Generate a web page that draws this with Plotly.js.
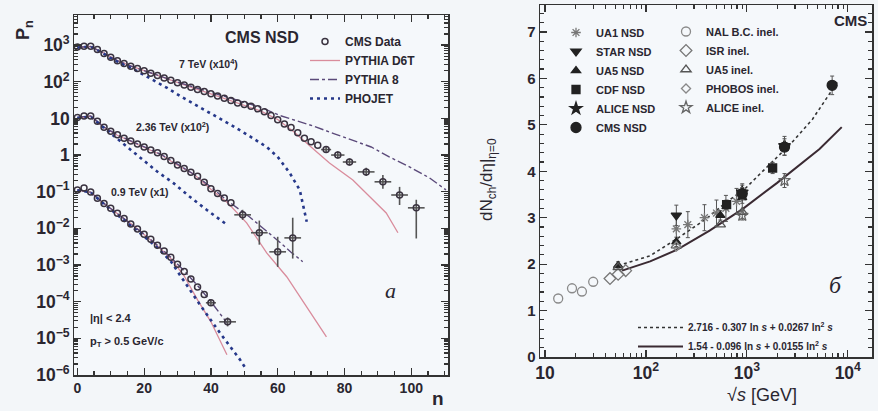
<!DOCTYPE html>
<html><head><meta charset="utf-8">
<script src="https://cdn.plot.ly/plotly-3.0.1.min.js"></script>
<style>body{margin:0;background:#f3f6f9}</style>
</head><body><div id="chart" style="width:878px;height:411px"></div>
<script>
// ---------- Left panel: multiplicity distributions P_n (already scaled as drawn) ----------
const n7   = [0,2,4,6,8,10,12,14,16,18,20,22,24,26,28,30,32,34,36,38,40,42,44,46,48,50,52,54,56,58,60,62,64,66,68,70,72,74.5,78,81.5,86.5,91.5,96.5,101.5];
const p7   = [891,933,933,759,589,468,372,316,263,229,200,170,148,126,110,93.3,81.3,70.8,61.7,53.7,46.8,40.7,35.5,30.9,26.3,24.0,21.4,18.2,15.1,12.0,9.12,7.08,5.62,4.07,2.88,2.29,1.86,1.41,1.00,0.646,0.347,0.186,0.0813,0.0363];
const ex7  = [0,0,0,0,0,0,0,0,0,0,0,0,0,0,0,0,0,0,0,0,0,0,0,0,0,0,0,0,0,0,0,0,0,0,0,0,0,1.5,2,2,2.5,2.5,2.5,2.5];
const eyU7 = [0,0,0,0,0,0,0,0,0,0,0,0,0,0,0,0,0,0,0,0,0,0,0,0,0,0,0,0,0,0,0,0,0,0,0,0,0,0.28,0.26,0.17,0.10,0.10,0.054,0.024];
const eyD7 = [0,0,0,0,0,0,0,0,0,0,0,0,0,0,0,0,0,0,0,0,0,0,0,0,0,0,0,0,0,0,0,0,0,0,0,0,0,0.24,0.20,0.13,0.08,0.066,0.038,0.031];

const n236   = [0,2,4,6,8,10,12,14,16,18,20,22,24,26,28,30,32,34,36,38,40,42,44,46,49.5,54.5,60,64.5];
const p236   = [10.5,11.7,11.7,8.32,5.75,4.47,3.55,2.88,2.40,2.00,1.66,1.38,1.15,0.912,0.708,0.537,0.427,0.339,0.263,0.182,0.120,0.0891,0.0676,0.0501,0.0234,0.00759,0.00229,0.00550];
const ex236  = [0,0,0,0,0,0,0,0,0,0,0,0,0,0,0,0,0,0,0,0,0,0,0,0,2.5,2.5,2.5,2.5];
const eyU236 = [0,0,0,0,0,0,0,0,0,0,0,0,0,0,0,0,0,0,0,0,0,0,0,0,0.0087,0.0087,0.0036,0.014];
const eyD236 = [0,0,0,0,0,0,0,0,0,0,0,0,0,0,0,0,0,0,0,0,0,0,0,0,0.0064,0.0040,0.0014,0.0040];

const n09   = [0,2,4,6,8,10,12,14,16,18,20,22,24,26,28,30,32,34,36,38,40,45];
const p09   = [0.112,0.126,0.0977,0.0661,0.0479,0.0355,0.0257,0.0186,0.0132,0.00955,0.00692,0.00501,0.00347,0.00240,0.00162,0.00105,0.000661,0.000417,0.000251,0.000158,0.0000933,0.0000282];
const ex09  = [0,0,0,0,0,0,0,0,0,0,0,0,0,0,0,0,0,0,0,0,1.5,2.5];
const eyU09 = [0,0,0,0,0,0,0,0,0,0,0,0,0,0,0,0,0,0,0,0,0.000019,0.000009];
const eyD09 = [0,0,0,0,0,0,0,0,0,0,0,0,0,0,0,0,0,0,0,0,0.000016,0.000007];

// PYTHIA D6T
const d6tN7  = [0,4,8,12,16,20,25,30,35,40,45,50,55,60,65,70,75.5,82.5,89.5,92.5,96];
const d6tP7  = [851,912,603,380,269,200,138,93.3,66.1,46.8,33.1,23.4,15.8,9.33,4.17,1.66,0.603,0.209,0.0490,0.0263,0.00759];
const d6tN236 = [0,4,8,12,16,20,25,30,35,40,45,50.7,56.7,62.7,68.7,74.6];
const d6tP236 = [10.2,11.5,5.62,3.47,2.34,1.62,1.02,0.525,0.295,0.117,0.0501,0.0141,0.00214,0.000479,0.0000724,0.0000110];
const d6tN09 = [0,4,8,12,16,20,24,28,32,36,40,44.8];
const d6tP09 = [0.110,0.0955,0.0468,0.0251,0.0135,0.00676,0.00331,0.00151,0.000501,0.000112,0.0000282,0.00000355];
// PYTHIA 8
const p8N7  = [0,4,8,12,16,20,25,30,35,40,45,50,55,60.6,65,70.4,77,83.6,88,93.4,99,105.4,110.4];
const p8P7  = [871,912,589,372,269,200,141,97.7,70.8,51.3,38.0,28.2,20.0,12.0,8.91,6.31,3.80,2.29,1.66,0.891,0.501,0.240,0.112];
const p8N236 = [0,4,8,12,16,20,25,30,35,40,45,51.6,56,60,64,67.5];
const p8P236 = [10.7,11.7,5.75,3.55,2.45,1.66,1.05,0.562,0.295,0.135,0.0562,0.0204,0.00955,0.00468,0.00224,0.00123];
const p8N09 = [0,4,8,12,16,20,24,28,32,36,40,45];
const p8P09 = [0.112,0.0977,0.0479,0.0257,0.0132,0.00692,0.00347,0.00162,0.000692,0.000275,0.000100,0.0000251];
// PHOJET
const phN7  = [0,4,8,10,13,16.7,21,26.9,31.5,36.7,41.5,46.6,51.5,56.7,60,63.6,66.6,68.7];
const phP7  = [851,912,575,437,316,224,135,67.6,37.2,20.4,11.2,6.17,3.31,1.66,0.891,0.324,0.112,0.0151];
const phN236 = [0,4,8,11.9,15,18.8,23.9,28.7,33.7,38.8,44.8];
const phP236 = [10.2,11.2,5.50,2.82,1.58,0.832,0.355,0.174,0.0724,0.0316,0.0126];
const phN09 = [0,4,8,12,16,20,24,28,30.7,36.7,42.7,48.7,50.7];
const phP09 = [0.110,0.0955,0.0457,0.0234,0.0117,0.00603,0.00295,0.00126,0.000537,0.0000832,0.0000141,0.00000263,0.00000138];

// ---------- Right panel: dN/deta at eta=0 vs sqrt(s) ----------
const ua1X = [200,260,380,500,620,790,900],  ua1Y = [2.76,2.85,3.0,3.1,3.2,3.35,3.45], ua1E = [0.28,0.28,0.28,0.28,0.28,0.28,0.28];
const starX = [200], starY = [3.05], starE = [0.22];
const ua5nX = [53,200,546,900], ua5nY = [1.97,2.48,3.05,3.43], ua5nE = [0.08,0.1,0.1,0.12];
const cdfX = [630,1800], cdfY = [3.28,4.07], cdfE = [0.1,0.12];
const aliNX = [900,2360], aliNY = [3.55,4.55], aliNE = [0.15,0.2];
const cmsX = [900,2360,7000], cmsY = [3.52,4.52,5.85], cmsE = [0.13,0.18,0.2];
const nalX = [13.5,18.5,23.2,30], nalY = [1.26,1.48,1.41,1.62];
const isrX = [44,53,63], isrY = [1.69,1.78,1.86];
const ua5iX = [53,200,546,900], ua5iY = [1.93,2.40,2.85,3.12];
const phobX = [200], phobY = [2.38];
const aliIX = [900,2360], aliIY = [3.05,3.80], aliIE = [0.1,0.15];
const fitDotX = [53,110,204,398,631,955,1514,2690,4470,7940];
const fitDotY = [1.97,2.18,2.55,2.98,3.34,3.62,4.05,4.58,5.12,5.93];
const fitSolX = [58,110,204,427,912,1995,5250,8710];
const fitSolY = [1.86,2.06,2.31,2.72,3.19,3.75,4.48,4.95];

const W = 878, H = 411;
const FF = 'Liberation Sans, Arial, sans-serif';
const INK = '#2a2630';
const C_DATA = '#3a3340', C_D6T = '#d98c9c', C_P8 = '#5b4a7a', C_PH = '#26388a';

function dataTrace(x, y, ex, eu, ed, show) {
  return {x, y, type:'scatter', mode:'markers', xaxis:'x', yaxis:'y', name:'CMS Data', showlegend:show,
    marker:{symbol:'circle-open', size:6, color:C_DATA, line:{width:1.5, color:C_DATA}},
    error_x:{type:'data', array:ex, color:'#555', thickness:1.6, width:0},
    error_y:{type:'data', symmetric:false, array:eu, arrayminus:ed, color:'#555', thickness:1.6, width:0}};
}
function mcTrace(x, y, name, color, dash, width, show) {
  return {x, y, type:'scatter', mode:'lines', xaxis:'x', yaxis:'y', name, showlegend:show,
    line:{color, dash, width}};
}
function ptTrace(x, y, e, name, symbol, color, size, legend) {
  const t = {x, y, type:'scatter', mode:'markers', xaxis:'x2', yaxis:'y2', name, legend, showlegend:true,
    marker:{symbol, size, color, line:{width:1.3, color}}};
  if (e) t.error_y = {type:'data', array:e, color:'#555', thickness:1, width:2};
  return t;
}

const traces = [
  {x:[null], y:[null], type:'scatter', mode:'markers', xaxis:'x', yaxis:'y', name:'CMS Data',
   marker:{symbol:'circle-open', size:6, color:C_DATA, line:{width:1.5, color:C_DATA}}},
  mcTrace(d6tN7, d6tP7, 'PYTHIA D6T', C_D6T, 'solid', 1.3, true),
  mcTrace(d6tN236, d6tP236, 'PYTHIA D6T', C_D6T, 'solid', 1.3, false),
  mcTrace(d6tN09, d6tP09, 'PYTHIA D6T', C_D6T, 'solid', 1.3, false),
  mcTrace(p8N7, p8P7, 'PYTHIA 8', C_P8, 'dashdot', 1.4, true),
  mcTrace(p8N236, p8P236, 'PYTHIA 8', C_P8, 'dashdot', 1.4, false),
  mcTrace(p8N09, p8P09, 'PYTHIA 8', C_P8, 'dashdot', 1.4, false),
  mcTrace(phN7, phP7, 'PHOJET', C_PH, '3px,4px', 2.6, true),
  mcTrace(phN236, phP236, 'PHOJET', C_PH, '3px,4px', 2.6, false),
  mcTrace(phN09, phP09, 'PHOJET', C_PH, '3px,4px', 2.6, false),
  dataTrace(n7, p7, ex7, eyU7, eyD7, false),
  dataTrace(n236, p236, ex236, eyU236, eyD236, false),
  dataTrace(n09, p09, ex09, eyU09, eyD09, false),
  {x:fitDotX, y:fitDotY, type:'scatter', mode:'lines', xaxis:'x2', yaxis:'y2', legend:'legend4',
   name:'2.716 - 0.307 ln <i>s</i> + 0.0267 ln<sup>2</sup> <i>s</i>', line:{color:'#333', dash:'dot', width:1.6}},
  {x:fitSolX, y:fitSolY, type:'scatter', mode:'lines', xaxis:'x2', yaxis:'y2', legend:'legend4',
   name:'1.54 - 0.096 ln <i>s</i> + 0.0155 ln<sup>2</sup> <i>s</i>', line:{color:'#3a2a32', width:2}},
  ptTrace(ua1X, ua1Y, ua1E, 'UA1 NSD', 'asterisk-open', '#777', 8, 'legend2'),
  ptTrace(starX, starY, starE, 'STAR NSD', 'triangle-down', '#222', 9, 'legend2'),
  ptTrace(ua5nX, ua5nY, ua5nE, 'UA5 NSD', 'triangle-up', '#222', 8, 'legend2'),
  ptTrace(cdfX, cdfY, cdfE, 'CDF NSD', 'square', '#222', 8, 'legend2'),
  ptTrace(aliNX, aliNY, aliNE, 'ALICE NSD', 'star', '#222', 9, 'legend2'),
  ptTrace(cmsX, cmsY, cmsE, 'CMS NSD', 'circle', '#222', 10, 'legend2'),
  ptTrace(nalX, nalY, null, 'NAL B.C. inel.', 'circle-open', '#8a8a8a', 9, 'legend3'),
  ptTrace(isrX, isrY, null, 'ISR inel.', 'diamond-open', '#777', 9, 'legend3'),
  ptTrace(ua5iX, ua5iY, null, 'UA5 inel.', 'triangle-up-open', '#555', 9, 'legend3'),
  ptTrace(phobX, phobY, null, 'PHOBOS inel.', 'diamond-open', '#888', 7, 'legend3'),
  ptTrace(aliIX, aliIY, aliIE, 'ALICE inel.', 'star-open', '#666', 9, 'legend3')
];

const axLine = {showline:true, linecolor:'#333', linewidth:1.5, mirror:'allticks', ticks:'inside',
  ticklen:7, tickwidth:1.2, tickcolor:'#333', showgrid:false, zeroline:false,
  tickfont:{family:FF, size:14, weight:'bold', color:INK}};

function ann(text, x, y, o) {
  o = o || {};
  return Object.assign({text, x:x/W, y:1-y/H, xref:'paper', yref:'paper', showarrow:false,
    xanchor:'center', yanchor:'middle',
    font:{family:o.family || FF, size:o.size || 11, color:INK, weight:o.weight || 'bold'}},
    o.textangle !== undefined ? {textangle:o.textangle} : {},
    o.xanchor ? {xanchor:o.xanchor} : {});
}

const layout = {
  width:W, height:H, margin:{l:0, r:0, t:0, b:0},
  paper_bgcolor:'#f3f6f9', plot_bgcolor:'#f5f8fb',
  xaxis: Object.assign({}, axLine, {domain:[74/W, 448/W], range:[-1, 111], anchor:'y',
    tickvals:[0,20,40,60,80,100], minor:{ticks:'inside', ticklen:4, dtick:5, tickcolor:'#333'}}),
  yaxis: Object.assign({}, axLine, {domain:[36/H, 396/H], type:'log', range:[-6, 3.82], anchor:'x',
    dtick:1, exponentformat:'power', minor:{ticks:'inside', ticklen:4, dtick:'D1', tickcolor:'#333'}}),
  xaxis2: Object.assign({}, axLine, {domain:[540/W, 872/W], type:'log', range:[0.95, 4.24], anchor:'y2',
    dtick:1, exponentformat:'power', minor:{ticks:'inside', ticklen:4, dtick:'D1', tickcolor:'#333'}}),
  yaxis2: Object.assign({}, axLine, {domain:[54/H, 406/H], range:[0, 7.58], anchor:'x2',
    dtick:1, tickfont:{family:FF, size:15, weight:'bold', color:INK},
    minor:{ticks:'inside', ticklen:4, dtick:0.2, tickcolor:'#333'}}),
  legend:{x:305/W, y:1-27/H, xanchor:'left', yanchor:'top', bgcolor:'rgba(0,0,0,0)', itemwidth:30,
    tracegroupgap:0, font:{family:FF, size:12, weight:'bold', color:INK}},
  legend2:{x:556/W, y:1-18/H, xanchor:'left', yanchor:'top', bgcolor:'rgba(0,0,0,0)', itemwidth:30,
    tracegroupgap:0, font:{family:FF, size:11, weight:'bold', color:INK}},
  legend3:{x:666/W, y:1-17/H, xanchor:'left', yanchor:'top', bgcolor:'rgba(0,0,0,0)', itemwidth:30,
    tracegroupgap:0, font:{family:FF, size:11, weight:'bold', color:INK}},
  legend4:{x:633/W, y:1-313/H, xanchor:'left', yanchor:'top', bgcolor:'rgba(0,0,0,0)', itemwidth:45,
    tracegroupgap:0, font:{family:FF, size:10, weight:'bold', color:INK}},
  annotations:[
    ann('CMS NSD', 262, 37, {size:16}),
    ann('7 TeV (x10<sup>4</sup>)', 208, 63, {size:10.5}),
    ann('2.36 TeV (x10<sup>2</sup>)', 172, 127, {size:10.5}),
    ann('0.9 TeV (x1)', 140, 192, {size:10.5}),
    ann('|η| &lt; 2.4', 88, 318, {size:11, xanchor:'left'}),
    ann('p<sub>T</sub> &gt; 0.5 GeV/c', 88, 342, {size:11, xanchor:'left'}),
    ann('<i>a</i>', 390, 290, {size:22, family:'Liberation Serif, serif', weight:'normal'}),
    ann('P<sub>n</sub>', 24, 30, {size:18, textangle:-90}),
    ann('n', 438, 398, {size:19}),
    ann('CMS', 850, 20, {size:15}),
    ann('<i>б</i>', 835, 285, {size:24, family:'Liberation Serif, serif', weight:'normal'}),
    ann('dN<sub>ch</sub>/dη|<sub>η=0</sub>', 488, 180, {size:17, textangle:-90, weight:'normal'}),
    ann('√<i>s</i> [GeV]', 762, 395, {size:18, weight:'normal'})
  ]
};

Plotly.newPlot('chart', traces, layout, {staticPlot:true, displayModeBar:false});
</script></body></html>
